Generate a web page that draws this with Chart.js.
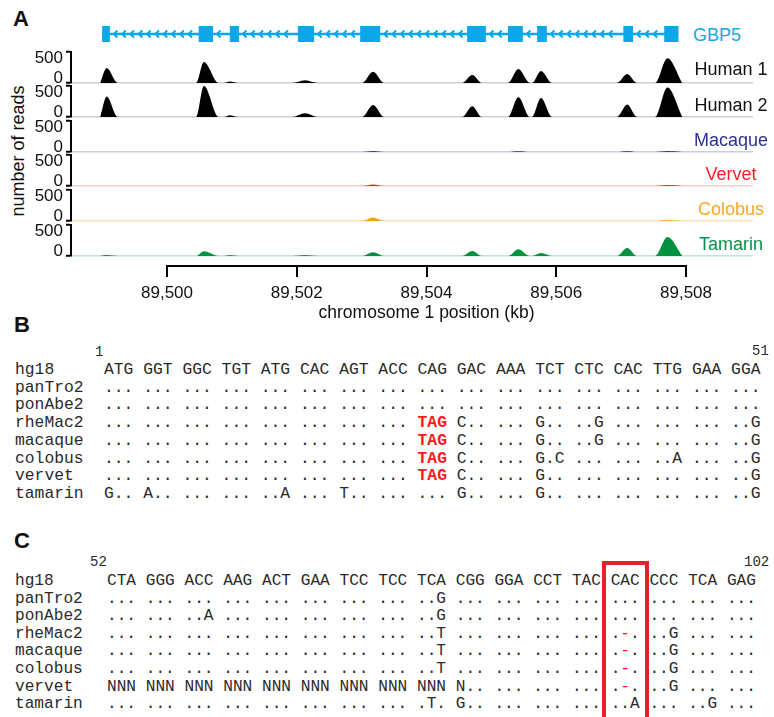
<!DOCTYPE html>
<html>
<head>
<meta charset="utf-8">
<script src="https://cdn.jsdelivr.net/npm/chart.js@4.4.1/dist/chart.umd.min.js"></script>
<style>
body { margin: 0; background: #fff; }
#fig { position: relative; width: 774px; height: 717px; overflow: hidden; font-family: 'Liberation Sans', Arial, sans-serif; color: #111; }
canvas { position: absolute; left: 0; }
.lab { position: absolute; white-space: pre; }
.panel { font-weight: bold; font-size: 22px; line-height: 22px; color: #111; }
.trk { font-size: 18px; line-height: 18px; width: 100px; text-align: center; left: 681px; }
.mono { position: absolute; white-space: pre; font-family: 'Liberation Mono', 'Courier New', monospace; color: #2a2a2a; }
#box { position: absolute; left: 602px; top: 561px; width: 47px; height: 200px; box-sizing: border-box; border: 4px solid #e8202a; }
</style>
</head>
<body>
<div id="fig">
  <div class="lab panel" style="left:13px;top:8px;">A</div>
  <div class="lab panel" style="left:14px;top:314px;">B</div>
  <div class="lab panel" style="left:14px;top:530px;">C</div>
  <div class="lab" style="left:693px;top:26px;font-size:18px;line-height:18px;color:#17a8e0;">GBP5</div>
  <div class="lab" style="left:-82px;top:142px;width:200px;height:18px;font-size:18px;line-height:18px;text-align:center;transform:rotate(-90deg);">number of reads</div>
  <canvas id="gene" width="774" height="28" style="top:20px"></canvas>
  <canvas id="t0" width="774" height="59" style="top:38px"></canvas>
  <canvas id="t1" width="774" height="59" style="top:72px"></canvas>
  <canvas id="t2" width="774" height="59" style="top:107px"></canvas>
  <canvas id="t3" width="774" height="59" style="top:141px"></canvas>
  <canvas id="t4" width="774" height="59" style="top:176px"></canvas>
  <canvas id="t5" width="774" height="59" style="top:211px"></canvas>
  <canvas id="axis" width="774" height="128" style="top:200px"></canvas>
  <div id="box"></div>
</div>
<script>
// axis ticks (kb)
const tickKb = [89500, 89502, 89504, 89506, 89508];
const xMin = 89498.52;
const xMax = 89509.04;

// GBP5 exons (kb)
const exonStart = [89499.00, 89500.49, 89500.97, 89502.02, 89502.98, 89504.63, 89505.26, 89505.71, 89507.04, 89507.67];
const exonEnd   = [89499.12, 89500.71, 89501.11, 89502.27, 89503.29, 89504.92, 89505.49, 89505.86, 89507.19, 89507.89];

// read coverage: base / apex / base for each peak
const peakKb = [
  89498.97, 89499.07, 89499.24,
  89500.45, 89500.57, 89500.80,
  89500.88, 89500.97, 89501.10,
  89501.93, 89502.13, 89502.33,
  89503.01, 89503.18, 89503.35,
  89504.55, 89504.71, 89504.86,
  89505.26, 89505.42, 89505.60,
  89505.63, 89505.77, 89505.94,
  89506.94, 89507.10, 89507.25,
  89507.53, 89507.72, 89507.95
];
const human1Reads  = [0,240,0, 0,340,0, 0,25,0, 0,45,0, 0,180,0, 0,130,0, 0,225,0, 0,195,0, 0,145,0, 0,400,0];
const human2Reads  = [0,330,0, 0,500,0, 0,30,0, 0,60,0, 0,195,0, 0,175,0, 0,320,0, 0,305,0, 0,200,0, 0,475,0];
const macaqueReads = [0,0,0, 0,0,0, 0,0,0, 0,0,0, 0,15,0, 0,0,0, 0,12,0, 0,0,0, 0,12,0, 0,15,0];
const vervetReads  = [0,0,0, 0,0,0, 0,0,0, 0,0,0, 0,25,0, 0,0,0, 0,0,0, 0,0,0, 0,0,0, 0,15,0];
const colobusReads = [0,0,0, 0,0,0, 0,0,0, 0,0,0, 0,55,0, 0,0,0, 0,0,0, 0,0,0, 0,0,0, 0,12,0];
const tamarinReads = [0,15,0, 0,75,0, 0,15,0, 0,15,0, 0,60,0, 0,80,0, 0,110,0, 0,50,0, 0,130,0, 0,305,0];
const trackNames = ['Human 1', 'Human 2', 'Macaque', 'Vervet', 'Colobus', 'Tamarin'];

// alignments
const seqNames = ['hg18', 'panTro2', 'ponAbe2', 'rheMac2', 'macaque', 'colobus', 'vervet', 'tamarin'];
const alignB = [
  'ATG GGT GGC TGT ATG CAC AGT ACC CAG GAC AAA TCT CTC CAC TTG GAA GGA',
  '... ... ... ... ... ... ... ... ... ... ... ... ... ... ... ... ...',
  '... ... ... ... ... ... ... ... ... ... ... ... ... ... ... ... ...',
  '... ... ... ... ... ... ... ... TAG C.. ... G.. ..G ... ... ... ..G',
  '... ... ... ... ... ... ... ... TAG C.. ... G.. ..G ... ... ... ..G',
  '... ... ... ... ... ... ... ... TAG C.. ... G.C ... ... ..A ... ..G',
  '... ... ... ... ... ... ... ... TAG C.. ... G.. ... ... ... ... ..G',
  'G.. A.. ... ... ..A ... T.. ... ... G.. ... G.. ... ... ... ... ..G'
];
const alignC = [
  'CTA GGG ACC AAG ACT GAA TCC TCC TCA CGG GGA CCT TAC CAC CCC TCA GAG',
  '... ... ... ... ... ... ... ... ..G ... ... ... ... ... ... ... ...',
  '... ... ..A ... ... ... ... ... ..G ... ... ... ... ... ... ... ...',
  '... ... ... ... ... ... ... ... ..T ... ... ... ... .-. ..G ... ...',
  '... ... ... ... ... ... ... ... ..T ... ... ... ... .-. ..G ... ...',
  '... ... ... ... ... ... ... ... ..T ... ... ... ... .-. ..G ... ...',
  'NNN NNN NNN NNN NNN NNN NNN NNN NNN N.. ... ... ... .-. ..G ... ...',
  '... ... ... ... ... ... ... ... .T. G.. ... ... ... ..A ... ..G ...'
];
const rulerB = ['1', '51'];
const rulerC = ['52', '102'];

const geneColor = '#0aa8e8';
const trackColors = ['#000000', '#000000', '#2e3192', '#ff1a1a', '#f6a21e', '#00923f'];
const labelColors = ['#111111', '#111111', '#2e3192', '#ff1d25', '#f7a824', '#009245'];
const baseTints = ['#cfcfcf', '#cfcfcf', '#c9cbe8', '#ffcccc', '#fbe3c0', '#bfe6cf'];
const labelTops = [60, 96, 131, 165, 200, 235];
const sans = 'Liberation Sans, Arial, sans-serif';

const chevronPlugin = {
  id: 'chevrons',
  beforeDatasetsDraw(chart) {
    const ctx = chart.ctx, xs = chart.scales.x, yc = chart.scales.y.getPixelForValue(0);
    ctx.save();
    ctx.strokeStyle = geneColor;
    ctx.lineWidth = 2;
    for (let i = 0; i < exonStart.length - 1; i++) {
      const a = xs.getPixelForValue(exonEnd[i]) + 4;
      const b = xs.getPixelForValue(exonStart[i + 1]) - 4;
      for (let p = a; p <= b - 4; p += 8.3) {
        ctx.beginPath();
        ctx.moveTo(p + 3.5, yc - 3.5);
        ctx.lineTo(p, yc);
        ctx.lineTo(p + 3.5, yc + 3.5);
        ctx.stroke();
      }
    }
    ctx.restore();
  }
};

const base = {
  animation: false,
  responsive: false,
  events: [],
  plugins: { legend: { display: false }, tooltip: { enabled: false } }
};

// gene model
const geneSets = [{
  data: [{ x: exonStart[0], y: 0 }, { x: exonEnd[exonEnd.length - 1], y: 0 }],
  borderColor: geneColor, borderWidth: 2.5, pointRadius: 0
}];
exonStart.forEach((s, i) => {
  geneSets.push({
    data: [{ x: s, y: 0 }, { x: exonEnd[i], y: 0 }],
    borderColor: geneColor, borderWidth: 16, borderCapStyle: 'butt', pointRadius: 0
  });
});
new Chart(document.getElementById('gene'), {
  type: 'line',
  data: { datasets: geneSets },
  options: Object.assign({}, base, {
    layout: { padding: { left: 71, right: 21, top: 0, bottom: 0 } },
    scales: {
      x: { type: 'linear', min: xMin, max: xMax, display: false },
      y: { min: -1, max: 1, display: false }
    }
  }),
  plugins: [chevronPlugin]
});

// coverage tracks
const allReads = [human1Reads, human2Reads, macaqueReads, vervetReads, colobusReads, tamarinReads];
allReads.forEach((reads, t) => {
  new Chart(document.getElementById('t' + t), {
    type: 'line',
    data: {
      datasets: [{
        data: peakKb.map((k, i) => ({ x: k, y: reads[i] })),
        borderWidth: 0, backgroundColor: trackColors[t], fill: 'origin',
        pointRadius: 0, cubicInterpolationMode: 'monotone', clip: false
      }]
    },
    options: Object.assign({}, base, {
      layout: { padding: { left: 0, right: 21, top: 14, bottom: 14 } },
      scales: {
        x: { type: 'linear', min: xMin, max: xMax, display: false },
        y: {
          min: 0, max: 500,
          afterFit: s => { s.width = 71; },
          afterBuildTicks: s => { s.ticks = [{ value: 0 }, { value: 500 }]; },
          border: { color: '#000', width: 2 },
          grid: {
            color: c => (c.tick && c.tick.value === 0) ? baseTints[t] : 'rgba(0,0,0,0)',
            lineWidth: 1.5, tickColor: '#000', tickLength: 5, tickWidth: 2
          },
          ticks: {
            color: '#111', padding: 3, labelOffset: 0.75,
            font: { family: sans, size: 17, lineHeight: 0.62 },
            callback: v => v === 500 ? ['', '500'] : ['0', '']
          }
        }
      }
    })
  });
  const d = document.createElement('div');
  d.className = 'lab trk';
  d.style.top = labelTops[t] + 'px';
  d.style.color = labelColors[t];
  d.textContent = trackNames[t];
  document.getElementById('fig').appendChild(d);
});

// position axis
new Chart(document.getElementById('axis'), {
  type: 'scatter',
  data: { datasets: [{ data: [] }] },
  options: Object.assign({}, base, {
    layout: { padding: { left: 167, right: 88, top: 0, bottom: 0 } },
    scales: {
      x: {
        type: 'linear', position: 'bottom', min: tickKb[0], max: tickKb[tickKb.length - 1],
        afterBuildTicks: s => { s.ticks = tickKb.map(v => ({ value: v })); },
        afterFit: s => { s.height = 62; },
        border: { color: '#000', width: 2 },
        grid: { drawOnChartArea: false, color: '#000', tickLength: 11, lineWidth: 2 },
        ticks: {
          color: '#111', padding: 6, maxRotation: 0, autoSkip: false,
          font: { family: sans, size: 17 },
          callback: v => v.toLocaleString('en-US')
        },
        title: {
          display: true, text: 'chromosome 1 position (kb)', color: '#111',
          font: { family: sans, size: 17.5 }, padding: { top: 0, bottom: 4 }
        }
      },
      y: { display: false }
    }
  })
});

// alignment panels
const fig = document.getElementById('fig');
function addText(txt, left, top, size, lh) {
  const d = document.createElement('div');
  d.className = 'mono';
  d.style.left = left + 'px';
  d.style.top = top + 'px';
  d.style.fontSize = size + 'px';
  d.style.lineHeight = lh + 'px';
  d.innerHTML = txt;
  fig.appendChild(d);
  return d;
}
function addAlign(rows, top0, step, seqLeft, size) {
  rows.forEach((row, i) => {
    const y = top0 + step * i;
    addText(seqNames[i], 15, y, size, 18);
    const html = row.split(' ').map(c => {
      if (i > 0 && c === 'TAG') return '<b style="color:#ff1a1a">TAG</b>';
      return c.replace(/-/g, '<span style="color:#ff1a1a">-</span>');
    }).join(' ');
    addText(html, seqLeft, y, size, 18);
  });
}
addText(rulerB[0], 95, 344, 14, 16);
addText(rulerB[1], 752, 343, 14, 16);
addAlign(alignB, 361, 17.7, 104, 16.33);
addText(rulerC[0], 90, 554, 14, 16);
addText(rulerC[1], 744, 554, 14, 16);
addAlign(alignC, 572, 17.6, 107, 16.15);
</script>
</body>
</html>
